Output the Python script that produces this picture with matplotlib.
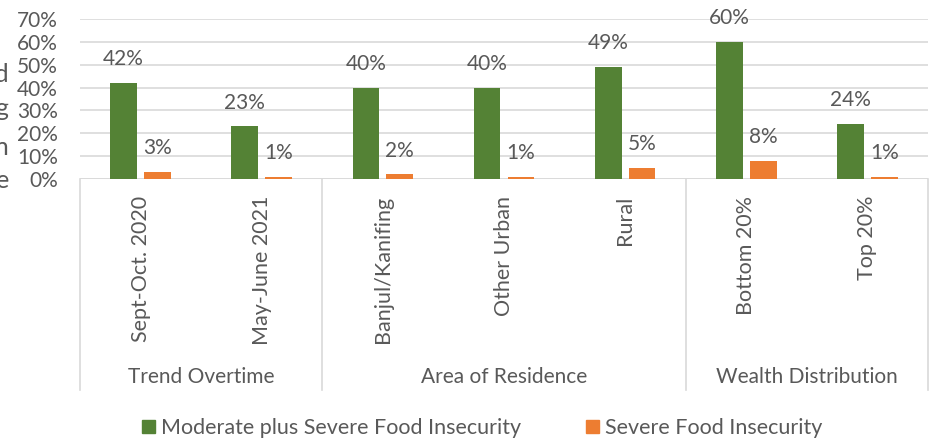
import matplotlib
matplotlib.use("Agg")
import matplotlib.pyplot as plt
import numpy as np

categories = ["Sept-Oct. 2020", "May-June 2021", "Banjul/Kanifing", "Other Urban",
              "Rural", "Bottom 20%", "Top 20%"]
groups = ["Trend Overtime", "Area of Residence", "Wealth Distribution"]
group_sizes = [2, 3, 2]
moderate_severe = [42, 23, 40, 40, 49, 60, 24]
severe = [3, 1, 2, 1, 5, 8, 1]
series_names = ["Moderate plus Severe Food Insecurity", "Severe Food Insecurity"]
yticks = [0, 10, 20, 30, 40, 50, 60, 70]

GREEN = "#548235"
ORANGE = "#ED7D31"
TXT = "#595959"
GRID = "#D9D9D9"
FONT = ["Lato", "DejaVu Sans"]
plt.rcParams["font.family"] = FONT

W, H = 937, 444
fig = plt.figure(figsize=(W / 100, H / 100), dpi=100)
L, R, T, B = 80, 928, 19, 179
ax = fig.add_axes([L / W, 1 - B / H, (R - L) / W, (B - T) / H])

x = np.arange(len(categories))
bw = 0.22
off = 0.14
b1 = ax.bar(x - off, moderate_severe, bw, color=GREEN, zorder=3, label=series_names[0])
b2 = ax.bar(x + off, severe, bw, color=ORANGE, zorder=3, label=series_names[1])

for bars, vals in ((b1, moderate_severe), (b2, severe)):
    for rect, v in zip(bars, vals):
        ax.annotate(f"{v}%", (rect.get_x() + rect.get_width() / 2, v),
                    xytext=(0, 10), textcoords="offset points",
                    ha="center", va="bottom", fontsize=15, color=TXT,
                    annotation_clip=False)

ax.set_xlim(-0.5, len(categories) - 0.5)
ax.set_ylim(0, 70)
ax.set_yticks(yticks)
ax.set_yticklabels([f"{t}%" for t in yticks])
ax.tick_params(axis="y", length=0, pad=16, labelsize=15, labelcolor=TXT)
ax.yaxis.grid(True, color=GRID, linewidth=1.2, zorder=0)
ax.set_axisbelow(True)
for s in ax.spines.values():
    s.set_visible(False)

ax.set_xticks(x)
ax.set_xticklabels(categories, rotation=90, fontsize=15.5, color=TXT, va="top")
ax.tick_params(axis="x", length=0, pad=12)

# baseline
ax.axhline(0, color=GRID, linewidth=1.2, zorder=2)

# group separators and labels
trans = ax.get_xaxis_transform()
bottom_frac = -(390 - B) / (B - T)
edges = [-0.5]
for g in group_sizes:
    edges.append(edges[-1] + g)
for e in edges:
    ax.plot([e, e], [0, bottom_frac], transform=trans, color=GRID,
            linewidth=1.2, clip_on=False)
label_y = -(377 - B) / (B - T)
for i, gname in enumerate(groups):
    cx = (edges[i] + edges[i + 1]) / 2
    ax.text(cx, label_y, gname, transform=trans, ha="center", va="center",
            fontsize=15, color=TXT)

# clipped y-axis title fragments at left edge
side_lines = ["Households who experienced", "food insecurity during",
              "the period of observation", "by region and time frame"]
for yy, s in zip([75, 108, 147, 181], side_lines):
    fig.text(9 / W, 1 - yy / H, s, ha="right", va="center", fontsize=18, color=TXT)

handles = [plt.Rectangle((0, 0), 1, 1, color=GREEN), plt.Rectangle((0, 0), 1, 1, color=ORANGE)]
fig.legend(handles, series_names, loc="center", bbox_to_anchor=(482 / W, 1 - 428 / H),
           ncol=2, frameon=False, fontsize=15.5, handlelength=0.6, handleheight=0.6,
           handletextpad=0.3, columnspacing=3.0, labelcolor=TXT)

fig.savefig("out.png", dpi=100)
